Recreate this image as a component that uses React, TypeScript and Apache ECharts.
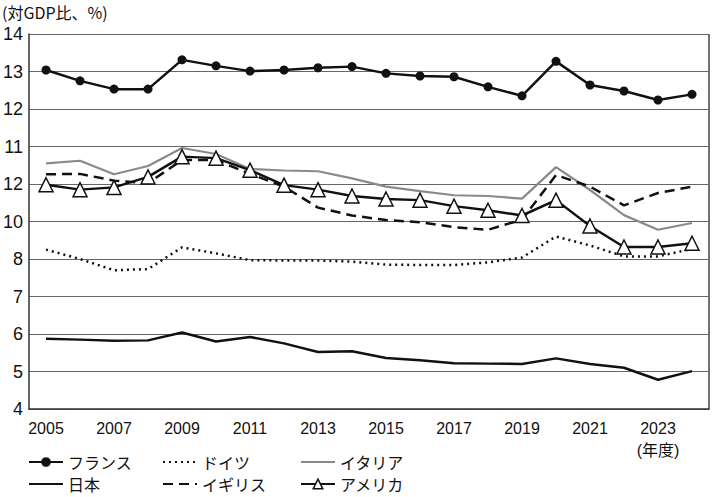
import React, { useEffect, useRef } from "react";
import * as echarts from "echarts";

const years = ["2005","2006","2007","2008","2009","2010","2011","2012","2013","2014","2015","2016","2017","2018","2019","2020","2021","2022","2023","2024"];
// Values are positions on the chart's (irregularly labelled) axis: gridline n = value n.
const tickLabels: Record<number, string> = { 4: "4", 5: "5", 6: "6", 7: "7", 8: "8", 9: "10", 10: "12", 11: "11", 12: "12", 13: "13", 14: "14" };

const france = [13.04,12.75,12.53,12.53,13.31,13.15,13.01,13.04,13.1,13.13,12.95,12.88,12.86,12.59,12.35,13.27,12.64,12.48,12.24,12.39];
const germany = [8.25,8.0,7.7,7.73,8.31,8.15,7.97,7.96,7.96,7.93,7.85,7.84,7.84,7.91,8.04,8.6,8.36,8.07,8.07,8.27];
const italy = [10.55,10.62,10.26,10.48,10.96,10.8,10.4,10.36,10.34,10.15,9.93,9.81,9.7,9.68,9.61,10.45,9.84,9.17,8.78,8.96];
const japan = [5.875,5.85,5.82,5.83,6.04,5.8,5.92,5.75,5.52,5.54,5.36,5.3,5.22,5.21,5.2,5.35,5.2,5.1,4.78,5.01];
const uk = [10.26,10.27,10.09,10.02,10.64,10.64,10.27,9.93,9.37,9.16,9.04,8.98,8.85,8.78,9.05,10.24,9.93,9.43,9.76,9.93];
const usa = [9.98,9.85,9.91,10.19,10.73,10.69,10.37,9.97,9.85,9.68,9.6,9.57,9.41,9.3,9.16,9.57,8.88,8.32,8.32,8.42];

const FONT = "'Liberation Sans', 'Noto Sans CJK JP', sans-serif";
const JFONT = "'Noto Sans CJK JP', sans-serif";

export default function App() {
  const ref = useRef<HTMLDivElement>(null);
  useEffect(() => {
    if (!ref.current) return;
    const chart = echarts.init(ref.current, null, { renderer: "svg" });
    const hidden = { opacity: 0 };
    const legendPos = [
      { name: "フランス", left: 26, top: 451, itemStyle: { color: "#111" } },
      { name: "ドイツ", left: 160, top: 451, itemStyle: hidden },
      { name: "イタリア", left: 298, top: 451, itemStyle: hidden },
      { name: "日本", left: 26, top: 473, itemStyle: hidden },
      { name: "イギリス", left: 160, top: 473, itemStyle: hidden },
      { name: "アメリカ", left: 298, top: 473, itemStyle: { color: "#fff", borderColor: "#111", borderWidth: 1.5 } },
    ];
    chart.setOption({
      animation: false,
      backgroundColor: "#fff",
      grid: { left: 27, right: 7, top: 34, bottom: 88 },
      graphic: [
        { type: "text", left: 2, top: 4, style: { text: "(対GDP比、%)", font: `16px ${JFONT}`, fill: "#111" } },
        { type: "line", shape: { x1: 709, y1: 34, x2: 709, y2: 409 }, style: { stroke: "#444", lineWidth: 1.5 } },
      ],
      legend: legendPos.map((l) => ({
        data: [l.name],
        left: l.left,
        top: l.top,
        itemWidth: 34,
        itemHeight: 12,
        itemGap: 6,
        padding: 2,
        itemStyle: l.itemStyle,
        textStyle: { fontFamily: JFONT, fontSize: 16, color: "#111", lineHeight: 18 },
      })),
      xAxis: {
        type: "category",
        data: years,
        boundaryGap: true,
        axisLine: { lineStyle: { color: "#333", width: 1.5 } },
        axisTick: { show: false },
        axisLabel: {
          interval: 1,
          color: "#111",
          fontFamily: FONT,
          fontSize: 16,
          margin: 8,
          lineHeight: 22,
          formatter: (v: string) => (v === "2023" ? "2023\n(年度)" : v),
        },
        splitLine: { show: false },
      },
      yAxis: {
        type: "value",
        min: 4,
        max: 14,
        interval: 1,
        axisLine: { show: true, lineStyle: { color: "#333", width: 1.5 } },
        axisTick: { show: false },
        axisLabel: {
          color: "#111",
          fontFamily: FONT,
          fontSize: 18,
          margin: 6,
          formatter: (v: number) => tickLabels[v] ?? "",
        },
        splitLine: { lineStyle: { color: "#666", width: 1 } },
      },
      series: [
        {
          name: "フランス", type: "line", data: france, symbol: "circle", symbolSize: 9,
          lineStyle: { color: "#111", width: 2.5 }, itemStyle: { color: "#111" }, z: 5,
        },
        {
          name: "ドイツ", type: "line", data: germany, symbol: "none",
          lineStyle: { color: "#111", width: 2.5, type: [2, 4] }, itemStyle: { color: "#111" },
        },
        {
          name: "イタリア", type: "line", data: italy, symbol: "none",
          lineStyle: { color: "#8a8a8a", width: 2.2 }, itemStyle: { color: "#8a8a8a" },
        },
        {
          name: "日本", type: "line", data: japan, symbol: "none",
          lineStyle: { color: "#111", width: 2.5 }, itemStyle: { color: "#111" },
        },
        {
          name: "イギリス", type: "line", data: uk, symbol: "none",
          lineStyle: { color: "#111", width: 2.5, type: [10, 6] }, itemStyle: { color: "#111" },
        },
        {
          name: "アメリカ", type: "line", data: usa, symbol: "triangle", symbolSize: 14,
          lineStyle: { color: "#111", width: 2.5 },
          itemStyle: { color: "#fff", borderColor: "#111", borderWidth: 1.5 }, z: 6,
        },
      ],
    });
    return () => chart.dispose();
  }, []);
  return <div ref={ref} style={{ width: 716, height: 497, position: "absolute", left: 0, top: 0 }} />;
}
